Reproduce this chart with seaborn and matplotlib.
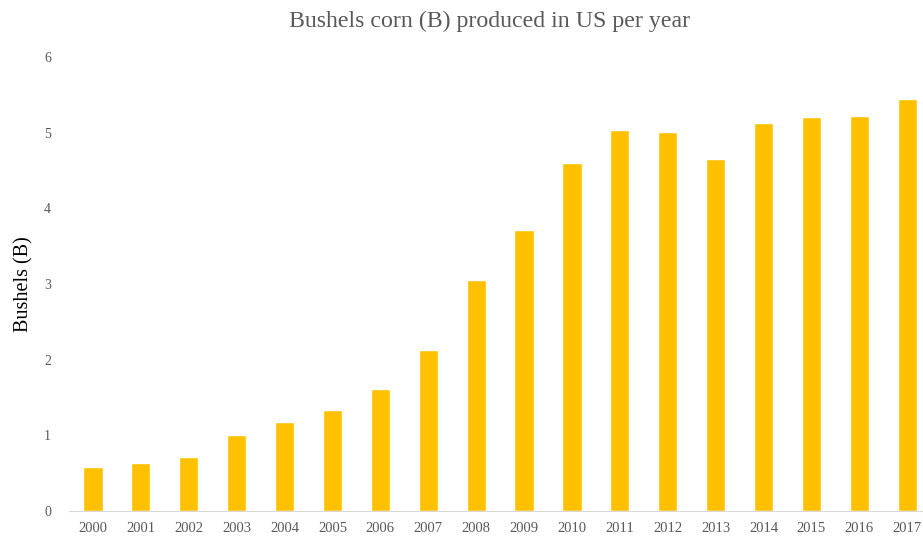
import pandas as pd
import seaborn as sns
import matplotlib.pyplot as plt

years = [str(y) for y in range(2000, 2018)]
bushels = [0.58, 0.63, 0.71, 1.00, 1.18, 1.33, 1.61, 2.13, 3.05, 3.71,
           4.60, 5.03, 5.01, 4.65, 5.13, 5.21, 5.22, 5.44]

df = pd.DataFrame({"Year": years, "Bushels": bushels})

sns.set_style("white")
plt.rcParams['font.family'] = ['Liberation Serif', 'DejaVu Serif']

fig = plt.figure(figsize=(9.23, 5.38), dpi=100)
ax = fig.add_axes([0.0748, 0.0502, 0.934, 0.8439])

sns.barplot(x="Year", y="Bushels", data=df, color="#FFC000", width=0.4,
            saturation=1, ax=ax)

ax.set_ylim(0, 6)
ax.set_xlim(-0.5, 17.5)
ax.set_yticks(range(0, 7))
ax.tick_params(axis='both', length=0, colors="#595959")
ax.tick_params(axis='x', labelsize=10.5, pad=8)
ax.tick_params(axis='y', labelsize=10, pad=13)
for s in ["top", "right", "left"]:
    ax.spines[s].set_visible(False)
ax.spines["bottom"].set_color("#D9D9D9")
ax.set_xlabel("")
ax.set_ylabel("Bushels (B)", fontsize=14.5, color="black")
ax.yaxis.set_label_coords(-0.041, 0.5)
fig.suptitle("Bushels corn (B) produced in US per year", fontsize=17.2,
             color="#595959", x=0.53, y=0.98)

plt.savefig("out.png", dpi=100)
